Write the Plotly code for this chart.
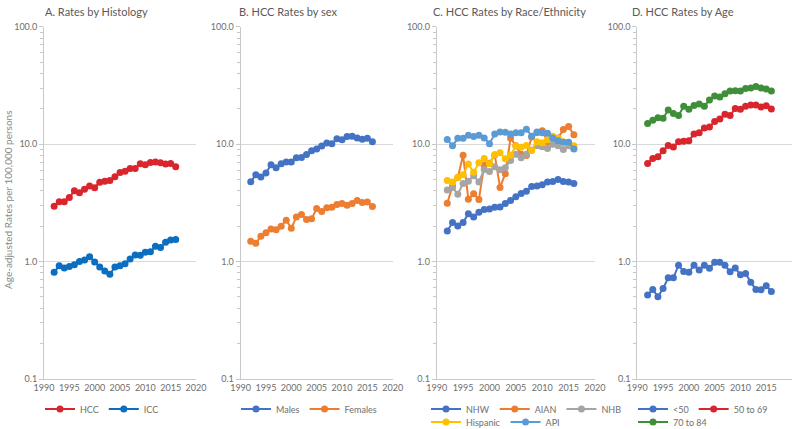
import plotly.graph_objects as go

years = list(range(1992, 2017))

# Panel A: by histology
hcc = [2.96, 3.23, 3.23, 3.51, 4.00, 3.85, 4.13, 4.41, 4.25, 4.74, 4.84, 4.90, 5.27,
       5.74, 5.89, 6.21, 6.20, 6.80, 6.66, 6.98, 7.03, 6.93, 6.76, 6.84, 6.41]
icc = [0.81, 0.92, 0.88, 0.91, 0.94, 1.00, 1.03, 1.10, 0.99, 0.90, 0.83, 0.78, 0.90,
       0.92, 0.96, 1.05, 1.14, 1.13, 1.20, 1.21, 1.35, 1.32, 1.46, 1.53, 1.54]

# Panel B: by sex
males = [4.78, 5.48, 5.24, 5.67, 6.67, 6.29, 6.80, 7.03, 7.05, 7.65, 7.70, 8.17, 8.78,
         9.07, 9.62, 10.2, 10.1, 11.1, 10.9, 11.6, 11.7, 11.3, 11.0, 11.2, 10.5]
females = [1.49, 1.43, 1.64, 1.76, 1.89, 1.87, 2.00, 2.25, 1.92, 2.40, 2.52, 2.28, 2.31,
           2.83, 2.67, 2.87, 2.90, 3.06, 3.12, 3.02, 3.12, 3.31, 3.18, 3.21, 2.94]

# Panel C: by race/ethnicity
nhw = [1.82, 2.15, 2.01, 2.15, 2.56, 2.40, 2.63, 2.77, 2.80, 2.90, 2.92, 3.12, 3.31,
       3.56, 3.80, 3.97, 4.35, 4.41, 4.50, 4.77, 4.80, 5.00, 4.80, 4.77, 4.62]
aian = [3.14, 4.40, 5.20, 8.06, 3.40, 3.78, 3.38, 6.62, 6.89, 8.10, 4.28, 5.60, 11.3,
        9.68, 8.22, 8.00, 11.5, 12.5, 13.0, 10.5, 10.3, 11.3, 13.3, 14.1, 12.0]
nhb = [4.06, 4.28, 3.75, 4.62, 4.84, 5.37, 4.77, 6.08, 5.85, 6.41, 6.04, 6.28, 7.26,
       8.22, 7.65, 8.20, 8.90, 9.68, 9.49, 9.18, 10.0, 9.70, 9.00, 9.70, 9.20]
hispanic = [4.90, 4.77, 5.20, 5.48, 6.76, 5.77, 6.93, 7.55, 6.80, 8.11, 8.44, 7.50, 8.06,
            9.62, 9.43, 9.75, 8.83, 10.5, 10.3, 10.9, 11.7, 11.2, 10.5, 10.3, 9.68]
api = [10.96, 9.68, 11.2, 11.2, 11.9, 11.6, 11.9, 11.3, 10.1, 12.2, 12.7, 12.6, 12.2,
       12.5, 12.5, 13.4, 11.7, 12.7, 12.5, 12.4, 11.3, 10.7, 10.4, 10.4, 9.10]

# Panel D: by age
age_lt50 = [0.519, 0.579, 0.502, 0.590, 0.727, 0.727, 0.931, 0.822, 0.812, 0.930, 0.849,
            0.930, 0.879, 0.987, 0.987, 0.930, 0.817, 0.883, 0.771, 0.791, 0.668, 0.579,
            0.576, 0.622, 0.557]
age_50_69 = [6.85, 7.56, 7.81, 8.79, 9.75, 9.44, 10.5, 10.6, 10.7, 12.2, 12.5, 13.7, 14.0,
             15.6, 16.4, 18.0, 17.5, 20.1, 19.8, 21.0, 21.5, 21.5, 20.7, 21.2, 19.9]
age_70_84 = [15.0, 16.0, 16.8, 16.6, 19.5, 18.2, 17.5, 21.0, 19.8, 21.3, 22.0, 21.0, 23.8,
             25.7, 25.2, 26.9, 28.3, 28.5, 28.3, 29.7, 30.0, 31.0, 30.0, 29.5, 28.3]

panel_titles = ["A. Rates by Histology", "B. HCC Rates by sex",
                "C. HCC Rates by Race/Ethnicity", "D. HCC Rates by Age"]
x_ticks = [1990, 1995, 2000, 2005, 2010, 2015, 2020]
y_ticks = [0.1, 1, 10, 100]
y_ticktext = ["0.1", "1.0", "10.0", "100.0"]
y_title = "Age-adjusted Rates per 100,000 persons"

RED = "#D9262C"
series = [
    # (panel, name, values, color, legend)
    (1, "HCC", hcc, RED, "legend"),
    (1, "ICC", icc, "#0B6EC1", "legend"),
    (2, "Males", males, "#4472C4", "legend2"),
    (2, "Females", females, "#ED7D31", "legend2"),
    (3, "NHW", nhw, "#4472C4", "legend3"),
    (3, "AIAN", aian, "#ED7D31", "legend3"),
    (3, "NHB", nhb, "#A5A5A5", "legend3"),
    (3, "Hispanic", hispanic, "#FFC000", "legend5"),
    (3, "API", api, "#5B9BD5", "legend5"),
    (4, "<50", age_lt50, "#4472C4", "legend4"),
    (4, "50 to 69", age_50_69, RED, "legend4"),
    (4, "70 to 84", age_70_84, "#3F8E3A", "legend6"),
]

W, H = 800, 429
fig = go.Figure()
for p, name, vals, col, leg in series:
    sfx = "" if p == 1 else str(p)
    fig.add_trace(go.Scatter(
        x=years, y=vals, name=name, mode="lines+markers",
        line=dict(color=col, width=2),
        marker=dict(color=col, size=7, symbol="circle"),
        xaxis="x" + sfx, yaxis="y" + sfx, legend=leg,
    ))

x_domains = [(44, 196), (240.6, 392.7), (436.7, 595), (637.3, 792)]
y_dom = [1 - 379 / H, 1 - 26.7 / H]
minor_vals = [m * 10 ** e for e in (-1, 0, 1) for m in range(2, 10)]
font_family = "Lato, 'Open Sans', sans-serif"
GRAY_TXT = "#6E6E6E"
AXIS_COL = "#C8C8C8"

layout = dict(
    width=W, height=H,
    margin=dict(l=0, r=0, t=0, b=0, autoexpand=False),
    paper_bgcolor="white", plot_bgcolor="white",
    font=dict(family=font_family, color=GRAY_TXT, size=9),
    showlegend=True,
)
for i, (x0, x1) in enumerate(x_domains, start=1):
    sfx = "" if i == 1 else str(i)
    layout["xaxis" + sfx] = dict(
        domain=[x0 / W, x1 / W], anchor="y" + sfx, range=[1990, 2020],
        tickvals=x_ticks, showgrid=False, zeroline=False,
        showline=True, linecolor=AXIS_COL, linewidth=1,
        ticks="", tickfont=dict(size=9, color=GRAY_TXT), fixedrange=True,
    )
    layout["yaxis" + sfx] = dict(
        domain=y_dom, anchor="x" + sfx, type="log", range=[-1, 2],
        tickmode="array", tickvals=y_ticks, ticktext=y_ticktext,
        showgrid=True, gridcolor="#D9D9D9", gridwidth=1, zeroline=False,
        showline=True, linecolor=AXIS_COL, linewidth=1,
        ticks="outside", ticklen=4, tickcolor=AXIS_COL,
        minor=dict(tickmode="array", tickvals=minor_vals, ticks="outside",
                   ticklen=3, tickcolor=AXIS_COL, showgrid=False),
        tickfont=dict(size=9, color=GRAY_TXT), fixedrange=True,
    )

leg_common = dict(orientation="h", yanchor="middle", xanchor="left",
                  font=dict(size=9, color=GRAY_TXT, family=font_family),
                  bgcolor="rgba(0,0,0,0)", itemwidth=30, tracegroupgap=0)
row1 = 1 - 409 / H
row2 = 1 - 422 / H
layout["legend"] = dict(leg_common, x=40 / W, y=row1)
layout["legend2"] = dict(leg_common, x=236 / W, y=row1)
layout["legend3"] = dict(leg_common, x=426 / W, y=row1)
layout["legend5"] = dict(leg_common, x=426 / W, y=row2)
layout["legend4"] = dict(leg_common, x=633 / W, y=row1)
layout["legend6"] = dict(leg_common, x=633 / W, y=row2)

annotations = []
title_x = [43, 237, 431, 630]
for tx, t in zip(title_x, panel_titles):
    annotations.append(dict(
        text=t, x=tx / W, y=1 - 11 / H, xref="paper", yref="paper",
        xanchor="left", yanchor="middle", showarrow=False,
        font=dict(size=11, color="#5A5A5A", family=font_family),
    ))
annotations.append(dict(
    text=y_title, x=8 / W, y=1 - 200 / H, xref="paper", yref="paper",
    xanchor="center", yanchor="middle", showarrow=False, textangle=-90,
    font=dict(size=10, color="#8A8A8A", family=font_family),
))
layout["annotations"] = annotations

fig.update_layout(**layout)
fig.write_html(
    "out.html",
    config={"displayModeBar": False},
    post_script="document.body.style.margin='0';document.body.style.overflow='hidden';",
)
